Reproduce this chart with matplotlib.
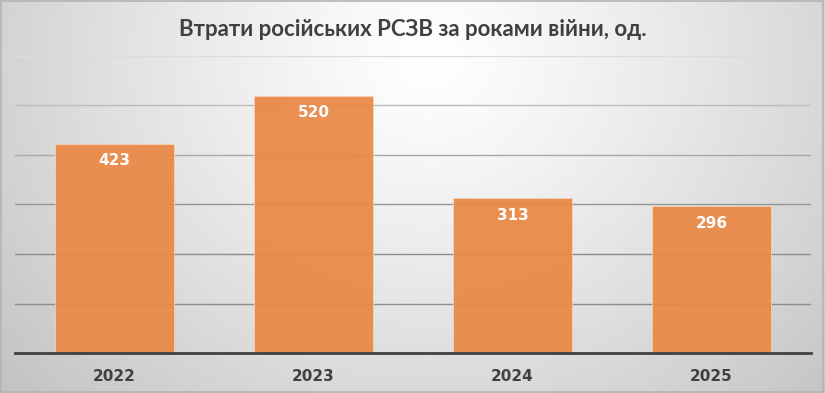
import numpy as np
import matplotlib.pyplot as plt

years = ['2022', '2023', '2024', '2025']
losses = [423, 520, 313, 296]
grid_levels = [100, 200, 300, 400, 500, 600]
title = 'Втрати російських РСЗВ за роками війни, од.'

fig = plt.figure(figsize=(8.25, 3.93), dpi=100)

# radial-ish gradient background, lightest near the top middle
bg = fig.add_axes([0, 0, 1, 1], zorder=-10)
px, py = np.meshgrid(np.arange(825), np.arange(393))
r = np.sqrt(((px - 430) / 430.0) ** 2 + ((py - 60) / 380.0) ** 2)
shade = 1.0 - 0.17 * np.clip(r, 0, 1.35) ** 1.2
bg.imshow(np.dstack([shade] * 3), aspect='auto', extent=[0, 1, 0, 1], origin='upper')
bg.add_patch(plt.Rectangle((0.001, 0.002), 0.997, 0.995, fill=False,
                           edgecolor='#b4b4b4', lw=1.2, transform=bg.transAxes))
bg.axis('off')

ax = fig.add_axes([15 / 825, 1 - 353 / 393, 796 / 825, 297 / 393])
ax.patch.set_alpha(0)
x = np.arange(len(years))

grid_cols = ['#8c8c8c', '#8c8c8c', '#969696', '#a8a8a8', '#bcbcbc', '#dcdcdc']
for lvl, c in zip(grid_levels, grid_cols):
    ax.axhline(lvl, color=c, lw=1.0, zorder=1)

bars = ax.bar(x, losses, width=0.6, color='#EA8846', alpha=0.93, zorder=3,
              edgecolor='#F6D3B8', linewidth=0.6)
ax.set_xlim(-0.5, len(years) - 0.5)
ax.set_ylim(0, 600)
ax.set_yticks([])
ax.tick_params(axis='x', bottom=False, pad=8)
ax.set_xticks(x)
ax.set_xticklabels(years, fontsize=11, fontweight='bold', color='#404040')
for s in ['top', 'right', 'left']:
    ax.spines[s].set_visible(False)
ax.spines['bottom'].set_color('#404040')
ax.spines['bottom'].set_linewidth(2)
ax.spines['bottom'].set_zorder(5)

for b, v in zip(bars, losses):
    ax.annotate(str(v), (b.get_x() + b.get_width() / 2, v), xytext=(0, -12.5),
                textcoords='offset points', ha='center', va='center',
                fontsize=11, fontweight='bold', color='white', zorder=4)

fig.text(0.5, 1 - 30 / 393, title, ha='center', va='center', fontsize=16,
         fontweight='bold', color='#404040', family=['Lato', 'DejaVu Sans'])

fig.savefig('out.png', dpi=100)
